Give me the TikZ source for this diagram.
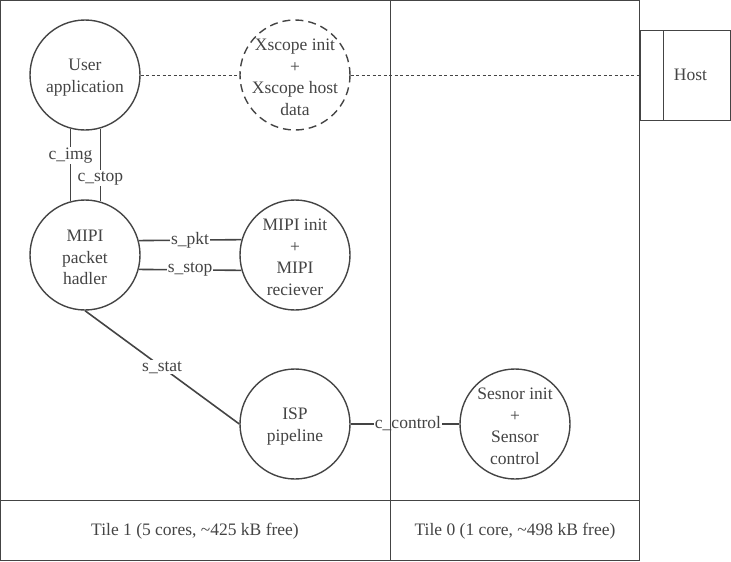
\documentclass[tikz,border=0pt]{standalone}
\usepackage{fontspec}
\setmainfont{Liberation Serif}
\begin{document}
\begin{tikzpicture}[x=1pt,y=-1pt,
  proc/.style={circle, draw=ink, line width=1.4pt, minimum size=110pt, inner sep=0pt},
  txt/.style={align=center, text=ink, inner sep=0pt, yshift=-2.5pt,
    font=\fontsize{17.5}{21.5}\selectfont},
  frame/.style={draw=ink, line width=0.9pt},
  link/.style={draw=ink, line width=1.6pt},
  tag/.style={fill=white, inner sep=1pt, text=ink, font=\fontsize{17.5}{21.5}\selectfont},
  hostbox/.style={draw=ink, line width=1pt, inner sep=0pt, text=ink,
    font=\fontsize{17.5}{21.5}\selectfont},
  trace/.style={draw=ink, line width=0.9pt, dash pattern=on 3pt off 2.5pt},
]
\definecolor{ink}{RGB}{68,68,68}
\useasboundingbox (0,0) rectangle (731,562);

% processes on tile 1
\node[proc, label={[txt]center:User\\application}] (user) at (85,75) {};
\node[proc, dash pattern=on 8pt off 5pt,
  label={[txt]center:Xscope init\\+\\Xscope host\\data}] (xscope) at (295,75) {};
\node[proc, label={[txt]center:MIPI\\packet\\hadler}] (mipi) at (85,255) {};
\node[proc, label={[txt]center:MIPI init\\+\\MIPI\\reciever}] (mipirx) at (295,255) {};
\node[proc, label={[txt]center:ISP\\pipeline}] (isp) at (295,424) {};
% process on tile 0
\node[proc, label={[txt]center:Sesnor init\\+\\Sensor\\control}] (sensor) at (515,424) {};

% host side
\node[hostbox, minimum width=23pt, minimum height=90pt] (hostpad) at (651.5,75) {};
\node[hostbox, minimum width=67pt, minimum height=90pt] (host) at (696.5,75) {\hspace*{-12pt}Host};

% xscope trace link
\draw[trace] (user.east) -- (xscope.west);
\draw[trace] (xscope.east) -- (hostpad.west);

% channels
\draw[link] (user.-105.8) -- node[tag, pos=0.37] {c\_img} (mipi.105.8);
\draw[link] (user.-74.2) -- node[tag, pos=0.68] {c\_stop} (mipi.74.2);
\draw[link] (mipi.15.8) -- node[tag] {s\_pkt} (mipirx.164.2);
\draw[link] (mipi.-15.8) -- node[tag] {s\_stop} (mipirx.-164.2);
\draw[link] (mipi.south) -- node[tag] {s\_stat} (isp.west);
\draw[link] (isp.east) -- node[tag, xshift=3pt] {c\_control} (sensor.west);

% tiles
\draw[frame] (0.6,0.6) rectangle (639.6,560.6);
\draw[frame] (390,0.6) -- (390,560.6);
\draw[frame] (0.6,500.5) -- (639.6,500.5);
\node[tag, fill=none] (tile1) at (195,531) {Tile 1 (5 cores, \textasciitilde425 kB free)};
\node[tag, fill=none] (tile0) at (515,531) {Tile 0 (1 core, \textasciitilde498 kB free)};
\end{tikzpicture}
\end{document}
